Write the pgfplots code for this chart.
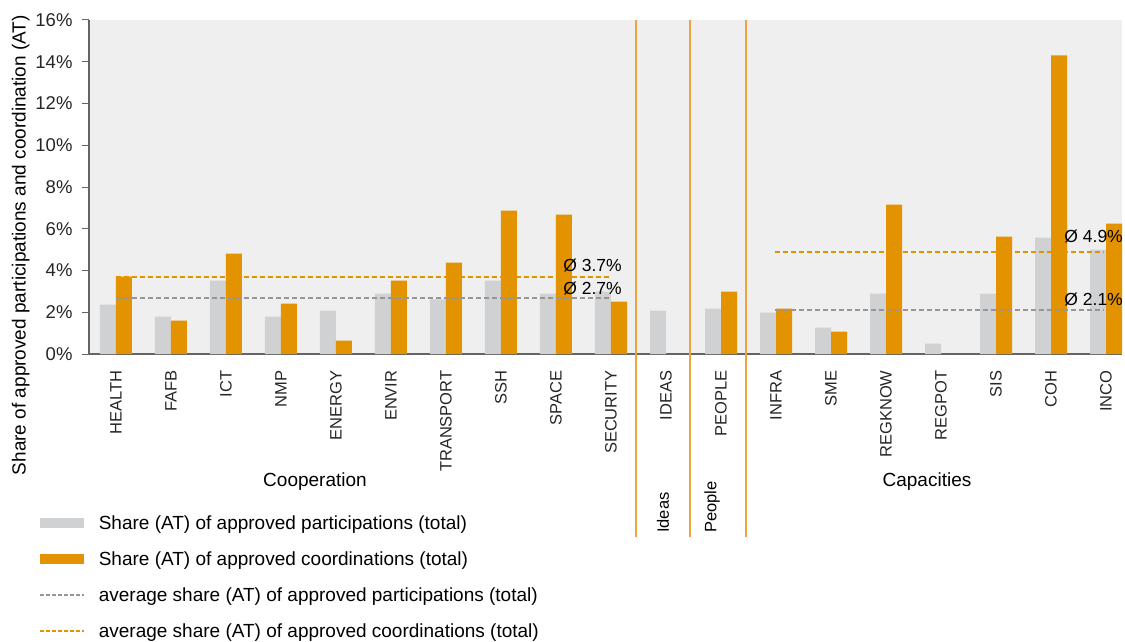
\documentclass[border=0pt]{standalone}
\usepackage{fontspec}
\setmainfont{Liberation Sans}
\usepackage{pgfplots}
\pgfplotsset{compat=1.18}

\definecolor{barGrey}{RGB}{208,209,211}
\definecolor{barOrange}{RGB}{227,146,0}
\definecolor{bgGrey}{RGB}{239,239,239}
\definecolor{avgGrey}{RGB}{150,150,150}
\definecolor{axisGrey}{RGB}{100,100,100}
\definecolor{sepOrange}{RGB}{234,165,60}

\newcommand{\txt}{\fontsize{19}{22}\selectfont}
\newcommand{\ticktxt}{\fontsize{16.5}{19}\selectfont}

\begin{document}
\begin{tikzpicture}
\path[use as bounding box] (-89pt,-288pt) rectangle (1036pt,354pt);
\begin{axis}[
scale only axis,
width=1033pt,
height=334pt,
xmin=-0.49, xmax=18.29,
ymin=0, ymax=16,
axis background/.style={fill=bgGrey},
axis lines*=left,
axis line style={-, draw=axisGrey, line width=1.2pt},
xtick={0,...,18},
xticklabels={HEALTH,FAFB,ICT,NMP,ENERGY,ENVIR,TRANSPORT,SSH,SPACE,SECURITY,IDEAS,PEOPLE,INFRA,SME,REGKNOW,REGPOT,SIS,COH,INCO},
x tick label style={rotate=90, anchor=east, xshift=-6pt, font=\ticktxt},
xtick style={draw=none},
ytick={0,2,...,16},
yticklabel={\pgfmathprintnumber{\tick}\%},
ytick style={draw=axisGrey, line width=1pt},
tick align=outside,
major tick length=7pt,
y tick label style={xshift=-6pt, font=\fontsize{18.5}{21}\selectfont},
/pgf/number format/assume math mode=true,
ticklabel style={text=black!85},
ylabel={Share of approved participations and coordination (AT)},
ylabel style={at={(axis description cs:-0.0660,0.326)}, anchor=center, font=\txt},
legend style={at={(axis description cs:-0.0484,-0.48)}, anchor=north west, draw=none, fill=none,
  font=\txt, row sep=18.7pt, column sep=13pt, inner sep=0pt,
  nodes={inner sep=1pt}},
legend cell align=left,
clip=false,
]
% participations
\addplot[ybar, bar width=16pt, bar shift=-8pt, fill=barGrey, draw=none,
  legend image code/.code={\fill[barGrey] (0pt,-5pt) rectangle (44pt,5pt);}]
coordinates {(0,2.36) (1,1.79) (2,3.51) (3,1.79) (4,2.08) (5,2.89) (6,2.62) (7,3.51) (8,2.89) (9,2.99)
 (10,2.08) (11,2.17) (12,1.98) (13,1.26) (14,2.89) (15,0.50) (16,2.89) (17,5.58) (18,5.00)};
\addlegendentry{Share (AT) of approved participations (total)}
% coordinations
\addplot[ybar, bar width=16pt, bar shift=8pt, fill=barOrange, draw=none,
  legend image code/.code={\fill[barOrange] (0pt,-5pt) rectangle (44pt,5pt);}]
coordinates {(0,3.71) (1,1.60) (2,4.81) (3,2.41) (4,0.64) (5,3.51) (6,4.38) (7,6.87) (8,6.68) (9,2.51)
 (11,2.99) (12,2.17) (13,1.07) (14,7.16) (16,5.62) (17,14.30) (18,6.25)};
\addlegendentry{Share (AT) of approved coordinations (total)}
% averages
\addplot[draw=avgGrey, line width=1.8pt, dash pattern=on 5pt off 3pt,
  legend image code/.code={\draw[draw=avgGrey, line width=1.6pt, dash pattern=on 3.5pt off 2.5pt] (0pt,0pt) -- (44pt,0pt);}]
coordinates {(0,2.7) (8.96,2.7)};
\addlegendentry{average share (AT) of approved participations (total)}
\addplot[draw=barOrange, line width=1.8pt, dash pattern=on 5pt off 3pt,
  legend image code/.code={\draw[draw=barOrange, line width=1.6pt, dash pattern=on 3.5pt off 2.5pt] (0pt,0pt) -- (44pt,0pt);}]
coordinates {(0,3.7) (8.96,3.7)};
\addlegendentry{average share (AT) of approved coordinations (total)}
\addplot[draw=avgGrey, line width=1.8pt, dash pattern=on 5pt off 3pt, forget plot]
coordinates {(11.98,2.1) (17.95,2.1)};
\addplot[draw=barOrange, line width=1.8pt, dash pattern=on 5pt off 3pt, forget plot]
coordinates {(11.98,4.9) (17.95,4.9)};

\node[anchor=west, inner sep=0pt, font=\fontsize{17.5}{20}\selectfont] at (axis cs:8.13,4.22) {Ø 3.7\%};
\node[anchor=west, inner sep=0pt, font=\fontsize{17.5}{20}\selectfont] at (axis cs:8.13,3.16) {Ø 2.7\%};
\node[anchor=west, inner sep=0pt, font=\fontsize{17.5}{20}\selectfont] at (axis cs:17.24,5.65) {Ø 4.9\%};
\node[anchor=west, inner sep=0pt, font=\fontsize{17.5}{20}\selectfont] at (axis cs:17.24,2.59) {Ø 2.1\%};
\end{axis}
% programme separators
\foreach \xx in {547,601,657}
  \draw[sepOrange, line width=1.3pt] (\xx pt,334pt) -- (\xx pt,-183pt);
\node[anchor=center, font=\txt] at (226pt,-128pt) {Cooperation};
\node[anchor=center, font=\txt] at (838pt,-128pt) {Capacities};
\node[anchor=west, rotate=90, inner sep=0pt, font=\ticktxt] at (574pt,-179pt) {Ideas};
\node[anchor=west, rotate=90, inner sep=0pt, font=\ticktxt] at (623pt,-179pt) {People};
\end{tikzpicture}
\end{document}
